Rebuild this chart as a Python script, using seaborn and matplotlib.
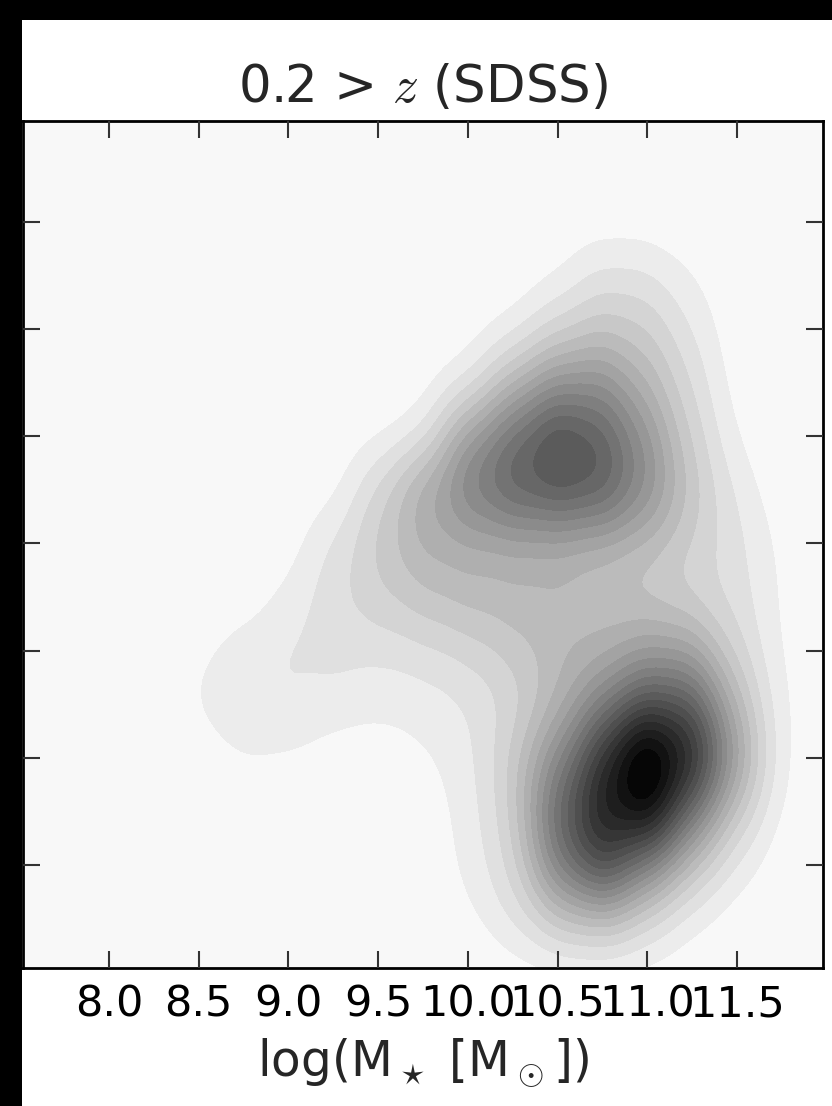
import numpy as np
import pandas as pd
import seaborn as sns
import matplotlib.pyplot as plt
from matplotlib.colors import LinearSegmentedColormap
from matplotlib.patches import Rectangle

# Relative galaxy counts on a coarse grid of stellar mass (columns) and colour (rows)
mass_grid = [8.5, 8.75, 9.0, 9.25, 9.5, 9.75, 10.0, 10.25, 10.5, 10.75, 11.0, 11.25, 11.5, 11.75]
colour_grid = [3.75, 3.5, 3.25, 3.0, 2.75, 2.5, 2.25, 2.0, 1.75, 1.5, 1.25, 1.0, 0.75]

counts_375 = [0, 0, 0, 0, 0, 0, 0, 0, 0.4, 2.0, 2.0, 0.9, 0, 0]
counts_350 = [0, 0, 0, 0, 0, 0, 0, 0.5, 2.5, 4, 3.5, 1.6, 0.2, 0]
counts_325 = [0, 0, 0, 0, 0, 0, 0.6, 4.5, 7.5, 8, 5, 2.5, 0.2, 0]
counts_300 = [0, 0, 0, 0, 0, 0.5, 7, 10.5, 14, 11.5, 7.5, 3, 0.6, 0]
counts_275 = [0, 0, 0, 0, 3, 7, 10.5, 12.5, 13, 12.5, 8.5, 4, 1.5, 0.1]
counts_250 = [0, 0, 0.2, 2, 4, 5.5, 5, 5, 5, 4.5, 4, 3, 2, 0.6]
counts_225 = [0, 0, 1, 2.5, 3.4, 4.2, 5, 5, 5, 4, 3.2, 2.5, 2.2, 0.6]
counts_200 = [0.5, 1.5, 2.1, 2.4, 1.8, 2.1, 2.6, 3.7, 4.8, 4.8, 6.5, 6.5, 2.8, 0.6]
counts_175 = [1.3, 2.0, 1.8, 1.1, 0.9, 1.1, 1.5, 2.2, 4.2, 8, 12, 12, 4.8, 0.8]
counts_150 = [0, 0.8, 0.6, 0.4, 0.4, 0.7, 1.3, 3.5, 8, 15, 23, 18, 7, 0.6]
counts_125 = [0, 0, 0, 0, 0, 0, 1.2, 3, 11, 17, 20, 9, 3, 0.3]
counts_100 = [0, 0, 0, 0, 0, 0, 1.2, 2.5, 10, 15, 8, 3.5, 1, 0]
counts_075 = [0, 0, 0, 0, 0, 0, 0.5, 2, 4, 4, 2, 0.5, 0, 0]

x_ticks = [8.0, 8.5, 9.0, 9.5, 10.0, 10.5, 11.0, 11.5]
y_ticks = [1.0, 1.5, 2.0, 2.5, 3.0, 3.5, 4.0]
x_limits = (7.52, 11.98)
y_limits = (0.52, 4.47)

rows = [counts_375, counts_350, counts_325, counts_300, counts_275, counts_250,
        counts_225, counts_200, counts_175, counts_150, counts_125, counts_100,
        counts_075]
records = [(m, c, w) for c, row in zip(colour_grid, rows)
           for m, w in zip(mass_grid, row) if w > 0]
df = pd.DataFrame(records, columns=["log_mstar", "colour", "weight"])

kde_kws = dict(data=df, x="log_mstar", y="colour", weights="weight",
               thresh=0, bw_method=0.25, cut=10, gridsize=350)

sns.set_theme(style="ticks", rc={
    "xtick.direction": "in", "ytick.direction": "in",
    "xtick.top": True, "ytick.right": True,
    "xtick.major.size": 12, "ytick.major.size": 12,
    "xtick.major.width": 1.5, "ytick.major.width": 1.5,
    "axes.linewidth": 2.0, "axes.edgecolor": "black",
    "xtick.color": "#333333", "ytick.color": "#333333",
    "xtick.labelcolor": "black",
    "mathtext.fontset": "cm",
})
plt.rcParams["font.family"] = ["DejaVu Sans"]

# Contours at evenly spaced densities: probe the density/iso-proportion relation
probe_props = np.linspace(0, 1, 801)
probe_fig, probe_ax = plt.subplots()
sns.kdeplot(fill=False, levels=probe_props, ax=probe_ax, **kde_kws)
probe_density = np.asarray(probe_ax.collections[-1].levels)
plt.close(probe_fig)
n_bands = 21
even_density = np.linspace(probe_density[0], probe_density[-1], n_bands + 1)
iso_levels = np.interp(even_density, probe_density, probe_props)
iso_levels[0], iso_levels[-1] = 0.0, 1.0

fig = plt.figure(figsize=(8.32, 11.06), dpi=100, facecolor="white")
W, H = 832, 1106
ax = fig.add_axes([23 / W, 1 - 968 / H, (823 - 23) / W, (968 - 121) / H])
ax.set_facecolor("#f8f8f8")
ax.set_axisbelow(False)

greys = LinearSegmentedColormap.from_list("soft_greys", ["#fefefe", "#000000"])
sns.kdeplot(fill=True, levels=list(iso_levels), cmap=greys, ax=ax, **kde_kws)

ax.set_xlim(*x_limits)
ax.set_ylim(*y_limits)
ax.set_xticks(x_ticks)
ax.set_xticklabels([f"{t:.1f}" for t in x_ticks])
ax.set_yticks(y_ticks)
ax.set_yticklabels([])
ax.tick_params(axis="x", labelsize=31, pad=11)
ax.set_xlabel(r"log(M$_\star$ [M$_\odot$])", fontsize=35, labelpad=8)
ax.set_ylabel("")
ax.set_title(r"0.2 > $z$ (SDSS)", fontsize=37, pad=14)

# dark frame strips along the left and top edges
fig.patches.append(Rectangle((0, 0), 22 / W, 1, transform=fig.transFigure,
                             facecolor="black", edgecolor="none", zorder=10))
fig.patches.append(Rectangle((0, 1 - 20 / H), 1, 20 / H, transform=fig.transFigure,
                             facecolor="black", edgecolor="none", zorder=10))

fig.savefig("out.png", dpi=100, facecolor="white")
